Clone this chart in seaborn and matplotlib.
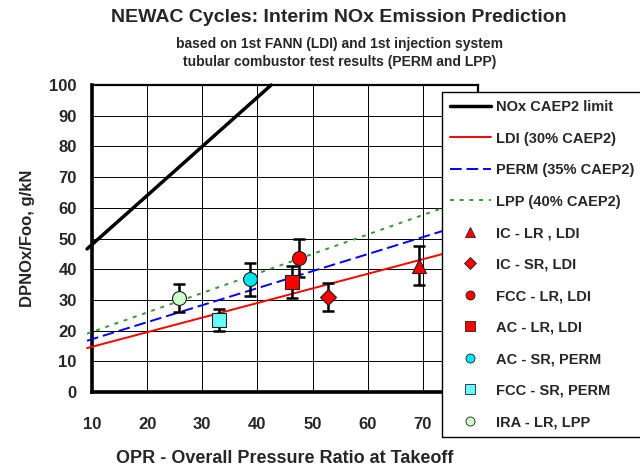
import pandas as pd
import matplotlib
matplotlib.use("Agg")
import matplotlib.pyplot as plt
import seaborn as sns
from matplotlib.lines import Line2D

# ------------------------------------
# Data
# ------------------------------------
limit_opr = [9.1, 20, 30, 40, 42.5]
limit_dp = [46.6, 64, 80, 96, 100]

line_opr = [9.1, 80]
ldi_dp = [14.3, 48.0]
perm_dp = [16.7, 56.0]
lpp_dp = [19.0, 64.0]

point_names = ["IC - LR , LDI", "IC - SR, LDI", "FCC - LR, LDI", "AC - LR, LDI",
               "AC - SR, PERM", "FCC - SR, PERM", "IRA - LR, LPP"]
point_opr = [69.3, 52.8, 47.5, 46.3, 38.7, 33.1, 25.8]
point_dp = [41.2, 31.0, 43.7, 35.8, 36.7, 23.5, 30.6]
point_err = [6.2, 4.6, 6.3, 5.2, 5.4, 3.5, 4.6]
point_markers = ["^", "D", "o", "s", "o", "s", "o"]
point_colors = ["#FF0000", "#FF0000", "#FF0000", "#FF0000", "#00E5EE", "#66FFFF", "#CCFFCC"]
point_sizes = [10, 8, 10, 10, 10, 10, 10]

sns.set_style("white")
plt.rcParams["font.family"] = ["Liberation Sans", "DejaVu Sans"]
plt.rcParams["font.weight"] = "bold"

fig = plt.figure(figsize=(6.4, 4.69), dpi=100)
ax = fig.add_axes([92 / 640, 1 - 392 / 469, (478 - 92) / 640, (392 - 85) / 469])

# ------------------------------------
# Reference lines
# ------------------------------------
limit_df = pd.DataFrame({"OPR": limit_opr, "DP": limit_dp})
sns.lineplot(data=limit_df, x="OPR", y="DP", color="black", lw=2.5, ax=ax,
             clip_on=False, zorder=3)

for values, color, style in [(ldi_dp, "#FF0000", "-"),
                             (perm_dp, "#0000FF", (0, (6, 2.5))),
                             (lpp_dp, "#339933", (0, (2, 3)))]:
    df = pd.DataFrame({"OPR": line_opr, "DP": values})
    sns.lineplot(data=df, x="OPR", y="DP", color=color, lw=1.4, ax=ax,
                 linestyle=style, clip_on=False, zorder=3)

# ------------------------------------
# Test points with error bars
# ------------------------------------
for x, y, e, m, c, s in zip(point_opr, point_dp, point_err,
                            point_markers, point_colors, point_sizes):
    ax.errorbar(x, y, yerr=e, fmt="none", ecolor="black", elinewidth=1.8,
                capsize=4, capthick=1.8, zorder=4)
    ax.plot(x, y, marker=m, color=c, markeredgecolor="#202020",
            markeredgewidth=0.8, markersize=s, linestyle="none", zorder=5)

# ------------------------------------
# Axes styling
# ------------------------------------
ax.set_xlim(10, 80)
ax.set_ylim(0, 100)
ax.set_xticks(range(10, 81, 10))
ax.set_yticks(range(0, 101, 10))
ax.set_xticks(range(15, 80, 10), minor=True)
ax.set_yticks(range(5, 100, 10), minor=True)
ax.grid(True, which="major", color="black", lw=0.7)
ax.set_axisbelow(True)
ax.tick_params(which="both", direction="in", length=4, width=1.2, labelsize=12)
ax.tick_params(axis="x", pad=18)
ax.tick_params(axis="y", pad=11)
for lab in ax.get_xticklabels() + ax.get_yticklabels():
    lab.set_fontweight("bold")
ax.spines["left"].set_linewidth(2.6)
ax.spines["bottom"].set_linewidth(2.6)
ax.spines["top"].set_linewidth(1.6)
ax.spines["right"].set_linewidth(1.6)
for sp in ax.spines.values():
    sp.set_color("black")

ax.set_xlabel("OPR - Overall Pressure Ratio at Takeoff", fontsize=13,
              fontweight="bold", labelpad=13)
ax.set_ylabel("DPNOx/Foo, g/kN", fontsize=12, fontweight="bold", labelpad=10)

fig.text(0.53, 1 - 18 / 469, "NEWAC Cycles: Interim NOx Emission Prediction",
         ha="center", va="center", fontsize=14, fontweight="bold")
fig.text(0.53, 1 - 44 / 469, "based on 1st FANN (LDI) and 1st injection system",
         ha="center", va="center", fontsize=10, fontweight="bold")
fig.text(0.53, 1 - 62 / 469, "tubular combustor test results (PERM and LPP)",
         ha="center", va="center", fontsize=10, fontweight="bold")

# ------------------------------------
# Legend
# ------------------------------------
handles = [
    Line2D([], [], color="black", lw=2.5),
    Line2D([], [], color="#FF0000", lw=1.4),
    Line2D([], [], color="#0000FF", lw=1.4, linestyle=(0, (6, 2.5))),
    Line2D([], [], color="#339933", lw=1.4, linestyle=(0, (2, 3))),
]
labels = ["NOx CAEP2 limit", "LDI (30% CAEP2)", "PERM (35% CAEP2)", "LPP (40% CAEP2)"]
for name, m, c in zip(point_names, point_markers, point_colors):
    handles.append(Line2D([], [], marker=m, color=c, markeredgecolor="#202020",
                          markeredgewidth=0.6, markersize=6.5, linestyle="none"))
    labels.append(name)

leg = ax.legend(handles, labels, loc="upper left",
                bbox_to_anchor=(442 / 640, 1 - 92 / 469),
                bbox_transform=fig.transFigure, borderaxespad=0,
                fancybox=False, framealpha=1, edgecolor="black",
                prop={"weight": "bold", "size": 10.5},
                handlelength=2.8, handletextpad=0.35, labelspacing=1.2,
                borderpad=0.55)
leg.get_frame().set_linewidth(1.0)

fig.savefig("out.png", dpi=100)
plt.close(fig)
